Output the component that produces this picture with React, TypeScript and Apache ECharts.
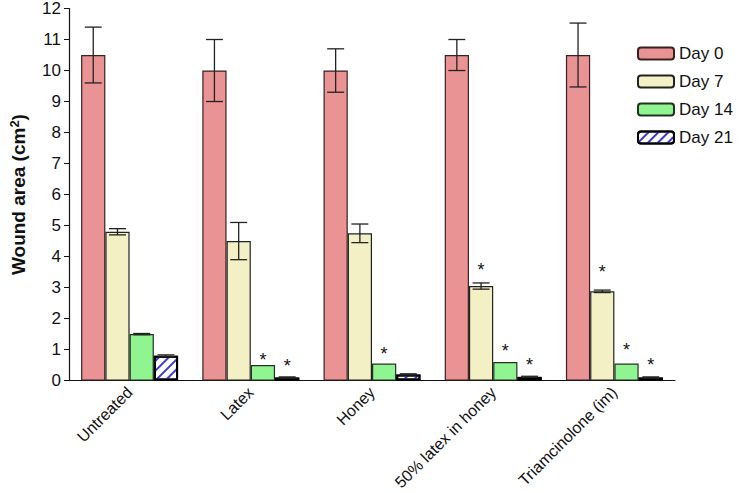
import React, { useEffect, useRef } from "react";
import * as echarts from "echarts";

const categories = ["Untreated", "Latex", "Honey", "50% latex in honey", "Triamcinolone (im)"];
const seriesNames = ["Day 0", "Day 7", "Day 14", "Day 21"];
const day0 = [10.5, 10.0, 10.0, 10.5, 10.5];
const day0Err = [0.9, 1.0, 0.7, 0.5, 1.03];
const day7 = [4.8, 4.5, 4.75, 3.05, 2.88];
const day7Err = [0.1, 0.6, 0.3, 0.1, 0.04];
const day14 = [1.5, 0.5, 0.55, 0.6, 0.55];
const day14Err = [0.02, 0.0, 0.0, 0.0, 0.0];
const day21 = [0.8, 0.1, 0.2, 0.12, 0.1];
const day21Err = [0.03, 0.02, 0.02, 0.02, 0.02];
// asterisk (significance) marks: y position in data units, null = none
const day7Star = [null, null, null, 3.69, 3.62];
const day14Star = [null, 0.8, 1.0, 1.08, 1.11];
const day21Star = [null, 0.6, null, 0.62, 0.63];
const yTicks = [0, 12, 1];

const FONT = "Liberation Sans, Arial, sans-serif";

export default function App() {
  const ref = useRef<HTMLDivElement>(null);
  useEffect(() => {
    if (!ref.current) return;
    const chart = echarts.init(ref.current, undefined, { renderer: "svg" });
    const values = [day0, day7, day14, day21];
    const errs = [day0Err, day7Err, day14Err, day21Err];
    const stars: (number | null)[][] = [[null, null, null, null, null], day7Star, day14Star, day21Star];
    const colors = ["#ea9395", "#f2f0c4", "#90f490", "#ffffff"];
    const borders = ["#3a2020", "#222222", "#223322", "#000000"];

    const barSeries = values.map((vals, si) => ({
      type: "bar",
      name: seriesNames[si],
      data: vals,
      barGap: "0%",
      barCategoryGap: "20%",
      itemStyle: {
        color: colors[si],
        borderColor: borders[si],
        borderWidth: si === 3 ? 2 : 1.2,
        decal:
          si === 3
            ? {
                symbol: "rect",
                color: "#3a3ad0",
                dashArrayX: [1, 0],
                dashArrayY: [1.3, 5],
                rotation: -Math.PI / 4,
                symbolSize: 1,
              }
            : "none",
      },
      z: 2,
    }));

    const errData: number[][] = [];
    values.forEach((vals, si) => {
      vals.forEach((v, ci) => {
        const e = errs[si][ci];
        if (e > 0) errData.push([ci, si, v - e, v + e]);
      });
    });

    const starData: number[][] = [];
    stars.forEach((arr, si) => {
      arr.forEach((y, ci) => {
        if (y !== null) starData.push([ci, si, y]);
      });
    });

    const errSeries = {
      type: "custom",
      name: "err",
      data: errData,
      z: 5,
      renderItem: (params: any, api: any) => {
        const ci = api.value(0);
        const si = api.value(1);
        const lo = api.coord([ci, api.value(2)]);
        const hi = api.coord([ci, api.value(3)]);
        const band = api.size([1, 0])[0];
        const w = (band * 0.8) / 4;
        const x = lo[0] + (si - 1.5) * w;
        const cap = w * 0.35;
        const style = { stroke: "#222", lineWidth: 1.3 };
        return {
          type: "group",
          children: [
            { type: "line", shape: { x1: x, y1: lo[1], x2: x, y2: hi[1] }, style },
            { type: "line", shape: { x1: x - cap, y1: lo[1], x2: x + cap, y2: lo[1] }, style },
            { type: "line", shape: { x1: x - cap, y1: hi[1], x2: x + cap, y2: hi[1] }, style },
          ],
        };
      },
    };

    const starSeries = {
      type: "custom",
      name: "stars",
      data: starData,
      z: 6,
      renderItem: (params: any, api: any) => {
        const ci = api.value(0);
        const si = api.value(1);
        const p = api.coord([ci, api.value(2)]);
        const band = api.size([1, 0])[0];
        const w = (band * 0.8) / 4;
        const x = p[0] + (si - 1.5) * w;
        return {
          type: "text",
          x,
          y: p[1] + 4,
          style: {
            text: "*",
            fontSize: 18,
            fontFamily: FONT,
            fill: "#111",
            align: "center",
            verticalAlign: "middle",
          },
        };
      },
    };

    chart.setOption({
      animation: false,
      textStyle: { fontFamily: FONT },
      grid: { left: 63, right: 67, top: 7, bottom: 111, containLabel: false },
      legend: {
        data: seriesNames,
        orient: "vertical",
        left: 632,
        top: 40,
        itemWidth: 36,
        itemHeight: 12,
        itemGap: 11,
        textStyle: { fontSize: 17, color: "#111", fontFamily: FONT },
      },
      xAxis: {
        type: "category",
        data: categories,
        axisLine: { lineStyle: { color: "#111", width: 1.2 } },
        axisTick: { show: false },
        axisLabel: {
          rotate: 45,
          fontSize: 16,
          color: "#111",
          margin: 9,
          interval: 0,
          fontFamily: FONT,
        },
      },
      yAxis: {
        type: "value",
        min: yTicks[0],
        max: yTicks[1],
        interval: yTicks[2],
        name: "{a|Wound area (cm}{s|2}{a|)}",
        nameLocation: "middle",
        nameGap: 40,
        nameTextStyle: {
          rich: {
            a: { fontSize: 19, fontWeight: "bold", color: "#111", fontFamily: FONT },
            s: { fontSize: 13, fontWeight: "bold", color: "#111", fontFamily: FONT, verticalAlign: "top", padding: [0, 0, 8, 0] },
          },
        },
        axisLine: { show: true, lineStyle: { color: "#111", width: 1.2 } },
        axisTick: { show: true, inside: false, length: 5, lineStyle: { color: "#111" } },
        axisLabel: { fontSize: 17, color: "#111", margin: 8, fontFamily: FONT },
        splitLine: { show: false },
      },
      series: [...barSeries, errSeries, starSeries],
    });
    return () => chart.dispose();
  }, []);
  return <div ref={ref} style={{ width: 742, height: 493, position: "absolute", left: 0, top: 0 }} />;
}
